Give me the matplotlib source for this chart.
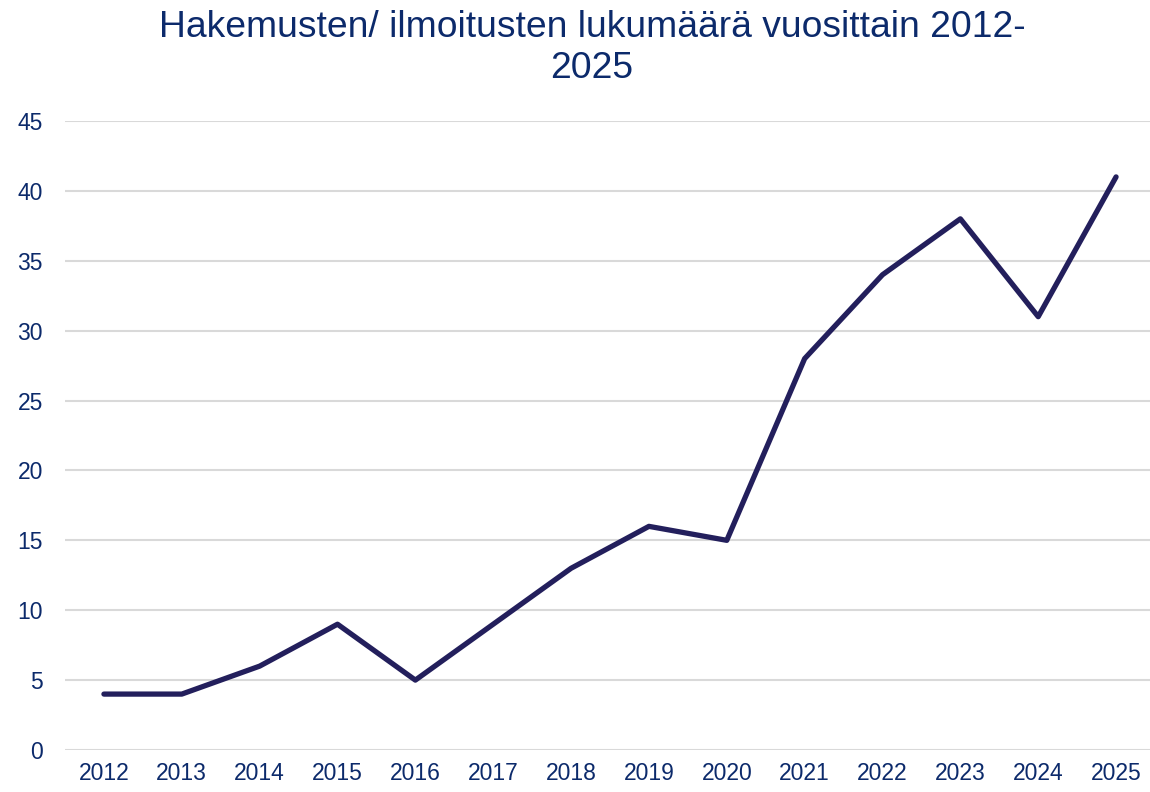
import matplotlib.pyplot as plt

# Data
years = ["2012", "2013", "2014", "2015", "2016", "2017", "2018",
         "2019", "2020", "2021", "2022", "2023", "2024", "2025"]
counts = [4, 4, 6, 9, 5, 9, 13, 16, 15, 28, 34, 38, 31, 41]
yticks = [0, 5, 10, 15, 20, 25, 30, 35, 40, 45]

text_color = "#0C2A6B"
line_color = "#231F5C"
grid_color = "#D9D9D9"

plt.rcParams['font.family'] = ['Liberation Sans', 'DejaVu Sans']

fig = plt.figure(figsize=(11.5, 7.92), dpi=100)
W, H = 1150, 792
ax = fig.add_axes([65 / W, (H - 750) / H, (1155 - 65) / W, (750 - 121) / H])

x = list(range(len(years)))
ax.plot(x, counts, color=line_color, linewidth=3.8,
        solid_capstyle="round", solid_joinstyle="round", zorder=3)

ax.set_xlim(-0.5, len(years) - 0.5)
ax.set_ylim(0, 45)
ax.set_yticks(yticks)
ax.set_xticks(x)
ax.set_xticklabels(years)
ax.grid(axis="y", color=grid_color, linewidth=1.5)
ax.set_axisbelow(True)
for s in ax.spines.values():
    s.set_visible(False)
ax.tick_params(axis="both", length=0, labelsize=16.5, labelcolor=text_color)
ax.tick_params(axis="y", pad=16)
ax.tick_params(axis="x", pad=9)

fig.text(592 / W, 1 - 10 / H,
         "Hakemusten/ ilmoitusten lukumäärä vuosittain 2012-\n2025",
         ha="center", va="top", fontsize=26.8, color=text_color,
         linespacing=1.22)

fig.savefig("out.png", dpi=100)
